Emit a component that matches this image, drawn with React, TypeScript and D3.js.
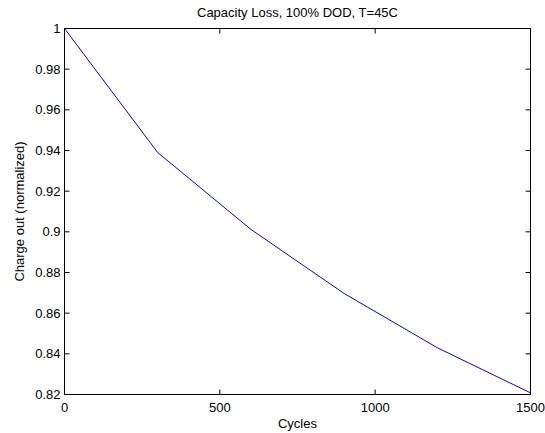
import React from "react";
import * as d3 from "d3";

const cycles = [0, 300, 600, 900, 1200, 1500];
const chargeOut = [1.0, 0.939, 0.9012, 0.8697, 0.843, 0.8208];
const xTicks = [0, 500, 1000, 1500];
const yTicks = [0.82, 0.84, 0.86, 0.88, 0.9, 0.92, 0.94, 0.96, 0.98, 1];
const title = "Capacity Loss, 100% DOD, T=45C";
const xLabel = "Cycles";
const yLabel = "Charge out (normalized)";

const W = 545, H = 433;
const L = 64.5, R = 530.5, T = 28.5, B = 394.5;
const FONT = "'Liberation Sans', Arial, Helvetica, sans-serif";
const FS = 13;

export default function App() {
  const x = d3.scaleLinear().domain([0, 1500]).range([L, R]);
  const y = d3.scaleLinear().domain([0.82, 1]).range([B, T]);
  const line = d3.line<number>().x((_, i) => x(cycles[i])).y((d) => y(d));
  const tl = 5;
  return (
    <svg width={W} height={H} style={{ position: "absolute", left: 0, top: 0, background: "#fff" }}
      fontFamily={FONT} fontSize={FS}>
      <rect x={0} y={0} width={W} height={H} fill="#fff" />
      <path d={line(chargeOut) || ""} fill="none" stroke="#0000ff" strokeWidth={1} />
      <rect x={L} y={T} width={R - L} height={B - T} fill="none" stroke="#000" strokeWidth={1} />
      {xTicks.map((t) => (
        <g key={"x" + t}>
          <line x1={x(t)} x2={x(t)} y1={B} y2={B - tl} stroke="#000" />
          <line x1={x(t)} x2={x(t)} y1={T} y2={T + tl} stroke="#000" />
          <text x={x(t)} y={B + 17} textAnchor="middle" fill="#000">{String(t)}</text>
        </g>
      ))}
      {yTicks.map((t) => (
        <g key={"y" + t}>
          <line x1={L} x2={L + tl} y1={y(t)} y2={y(t)} stroke="#000" />
          <line x1={R} x2={R - tl} y1={y(t)} y2={y(t)} stroke="#000" />
          <text x={L - 4} y={y(t) + 4.5} textAnchor="end" fill="#000">{String(+t.toFixed(2))}</text>
        </g>
      ))}
      <text x={(L + R) / 2} y={17} textAnchor="middle" fill="#000">{title}</text>
      <text x={(L + R) / 2} y={428} textAnchor="middle" fill="#000">{xLabel}</text>
      <text transform={`translate(24,${(T + B) / 2}) rotate(-90)`} textAnchor="middle" fill="#000">{yLabel}</text>
    </svg>
  );
}
